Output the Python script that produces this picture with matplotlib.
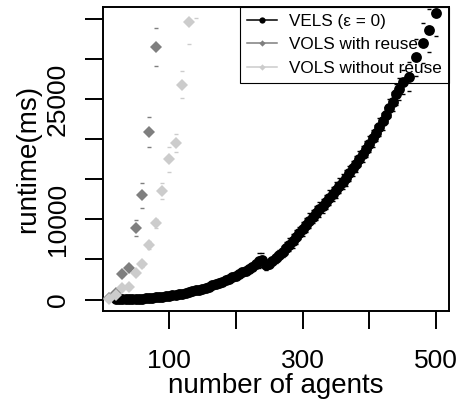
import matplotlib
matplotlib.use('Agg')
import matplotlib.pyplot as plt
from matplotlib.lines import Line2D
from matplotlib.ticker import FixedLocator, FixedFormatter

plt.rcParams['font.family'] = ['Liberation Sans', 'DejaVu Sans']

# VELS (eps = 0): mean runtime and spread per agent count
vels_agents = list(range(20, 451, 5)) + [460, 470, 480, 490, 500]
vels_ms = [10, 15, 20, 30, 40, 55, 70, 90, 115, 145, 175, 210, 250, 295, 345, 400,
           455, 520, 590, 665, 745, 830, 925, 1025, 1130, 1245, 1365, 1490, 1620, 1765,
           1910, 2065, 2230, 2400, 2580, 2765, 2960, 3165, 3380, 3600, 3830, 4070, 4400,
           4850, 4900, 4250,
           4450, 4800, 5150, 5550, 5950, 6400, 6850, 7300, 7800, 8300, 8800, 9300, 9850,
           10350, 10800, 11250, 11700, 12200, 12700, 13150, 13650, 14200, 14700, 15200,
           15750, 16350, 16950, 17550, 18150, 18750, 19400, 20100, 20800, 21500, 22250,
           23000, 23900, 24700, 25600, 26300, 27100,
           27800, 30200, 32000, 33600, 35700]
vels_err = [20, 20, 30, 30, 40, 40, 50, 50, 60, 60, 80, 80, 100, 100, 120, 120, 150, 150,
            180, 180, 200, 200, 220, 220, 250, 250, 280, 280, 300, 300, 330, 330, 350, 350,
            380, 380, 400, 400, 420, 420, 450, 450, 500, 900, 900, 600,
            500, 550, 600, 650, 700, 750, 800, 850, 900, 800, 850, 900, 950, 850, 900, 950,
            900, 850, 950, 900, 1000, 900, 950, 1000, 950, 900, 1000, 950, 1050, 1000, 950,
            1050, 1000, 1100, 1050, 1000, 1100, 1200, 1300, 1400, 1500,
            1800, 2300, 2500, 2700, 2800]

# VOLS with reuse
reuse_agents = [10, 20, 30, 40, 50, 60, 70, 80]
reuse_ms = [200, 750, 3200, 3950, 8900, 13000, 20900, 31500]
reuse_err = [50, 150, 300, 400, 1000, 1560, 1870, 2350]

# VOLS without reuse
noreuse_agents = [10, 20, 30, 40, 50, 60, 70, 80, 90, 100, 110, 120, 130, 140]
noreuse_ms = [60, 500, 1430, 1560, 3300, 4430, 6800, 9500, 13500, 17500, 19500,
              26800, 34600, 38000]
noreuse_err = [50, 100, 200, 250, 300, 400, 500, 600, 1020, 1580, 1150, 1700, 2660, 2900]

dark = '#7f7f7f'
light = '#cccccc'

fig = plt.figure(figsize=(4.6, 4.08), dpi=100)
ax = fig.add_axes([103 / 460, 1 - 311 / 408, 346 / 460, 304 / 408])


def caps(x, y, err, color, ms, z):
    lo = [a - b for a, b in zip(y, err)]
    hi = [a + b for a, b in zip(y, err)]
    ax.plot(x, lo, '_', color=color, ms=ms, mew=1.0, zorder=z)
    ax.plot(x, hi, '_', color=color, ms=ms, mew=1.0, zorder=z)


caps(vels_agents, vels_ms, vels_err, 'black', 3, 2)
ax.plot(vels_agents, vels_ms, 'o', color='black', ms=7.8, mew=0, zorder=3)
caps(reuse_agents, reuse_ms, reuse_err, dark, 2.5, 4)
ax.plot(reuse_agents, reuse_ms, 'D', color=dark, ms=6.2, mew=0, zorder=4)
caps(noreuse_agents, noreuse_ms, noreuse_err, light, 2.5, 5)
ax.plot(noreuse_agents, noreuse_ms, 'D', color=light, ms=6.2, mew=0, zorder=5)

ax.set_xlim(1, 519.5)
ax.set_ylim(-1435, 36500)

ax.xaxis.set_major_locator(FixedLocator([100, 200, 300, 400, 500]))
ax.xaxis.set_major_formatter(FixedFormatter(['100', '', '300', '', '500']))
ax.yaxis.set_major_locator(FixedLocator(list(range(0, 35001, 5000))))
ax.yaxis.set_major_formatter(FixedFormatter(['0', '', '10000', '', '', '25000', '', '']))

ax.tick_params(axis='both', direction='out', length=13, width=1.4, labelsize=19)
ax.tick_params(axis='x', pad=14)
ax.tick_params(axis='y', pad=11)
for t in ax.get_yticklabels():
    t.set_rotation(90)
    t.set_va('center')
for s in ax.spines.values():
    s.set_linewidth(1.4)

ax.set_xlabel('number of agents', fontsize=20)
ax.set_ylabel('runtime(ms)', fontsize=20)
ax.xaxis.set_label_coords(0.5, -0.205)
ax.yaxis.set_label_coords(-0.18, 0.5)

handles = [
    Line2D([], [], color='black', lw=1.1, marker='o', ms=4.5, mew=0),
    Line2D([], [], color=dark, lw=1.1, marker='D', ms=3.2, mew=0),
    Line2D([], [], color=light, lw=1.1, marker='D', ms=3.2, mew=0),
]
labels = ['VELS (\u03b5 = 0)', 'VOLS with reuse', 'VOLS without reuse']
leg = ax.legend(handles, labels, loc='upper right', borderaxespad=0, fontsize=12.3,
                handlelength=1.8, handletextpad=0.7, borderpad=0.4, labelspacing=0.5,
                fancybox=False, edgecolor='black', facecolor='none', framealpha=1)
leg.get_frame().set_linewidth(0.8)
leg.set_zorder(1)

fig.savefig('out.png', dpi=100)
